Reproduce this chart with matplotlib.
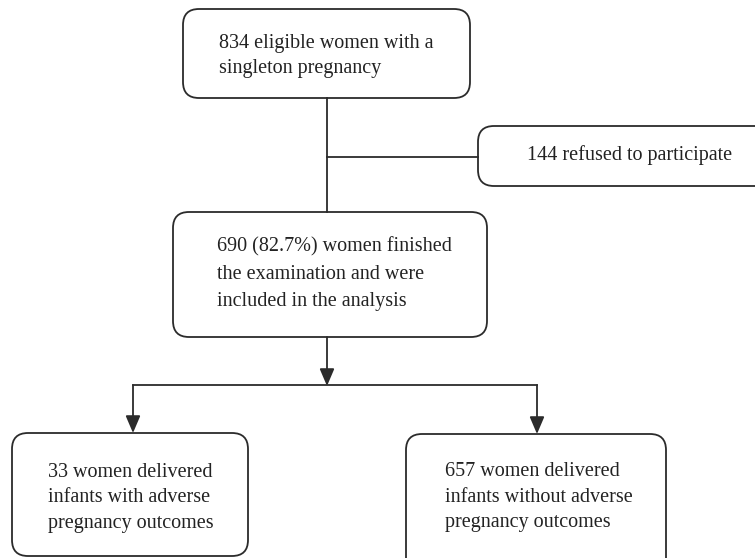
import matplotlib
matplotlib.use("Agg")
import matplotlib.pyplot as plt
from matplotlib.patches import FancyBboxPatch, FancyArrowPatch

# texts of the flow chart boxes
box_texts = [
    "834 eligible women with a\nsingleton pregnancy",
    "144 refused to participate",
    "690 (82.7%) women finished\nthe examination and were\nincluded in the analysis",
    "33 women delivered\ninfants with adverse\npregnancy outcomes",
    "657 women delivered\ninfants without adverse\npregnancy outcomes",
]

# box geometry in pixels: left, top, right, bottom
boxes = [
    (183, 9, 470, 98),
    (478, 126, 780, 186),
    (173, 212, 487, 337),
    (12, 433, 248, 556),
    (406, 434, 666, 575),
]
# text anchor (left x, centre y) and line spacing per box
text_pos = [(219, 56, 1.45), (527, 155, 1.2), (217, 274, 1.6), (48, 498, 1.48), (445, 497, 1.48)]

EDGE = "#2b2b2b"

fig = plt.figure(figsize=(7.55, 5.58), dpi=100)
ax = fig.add_axes([0, 0, 1, 1])
ax.set_xlim(0, 755)
ax.set_ylim(558, 0)
ax.axis("off")

for (x0, y0, x1, y1), txt, (tx, ty, ls) in zip(boxes, box_texts, text_pos):
    ax.add_patch(FancyBboxPatch((x0, y0), x1 - x0, y1 - y0,
                                boxstyle="round,pad=0,rounding_size=16",
                                fc="white", ec=EDGE, lw=1.3, clip_on=True))
    ax.text(tx, ty, txt, ha="left", va="center", fontsize=14.5,
            family="Liberation Serif", color="#222222", linespacing=ls)

# connectors
ax.plot([327, 327], [98, 212], color=EDGE, lw=1.3)
ax.plot([327, 478], [157, 157], color=EDGE, lw=1.3)
ax.plot([133, 537], [385, 385], color=EDGE, lw=1.3)


def arrow(x, y0, y1):
    ax.add_patch(FancyArrowPatch((x, y0), (x, y1), arrowstyle="-|>,head_length=0.75,head_width=0.32",
                                 mutation_scale=14, color=EDGE, lw=1.3, shrinkA=0, shrinkB=0))


arrow(327, 337, 386)
arrow(133, 385, 433)
arrow(537, 385, 434)

fig.savefig("out.png", dpi=100)
